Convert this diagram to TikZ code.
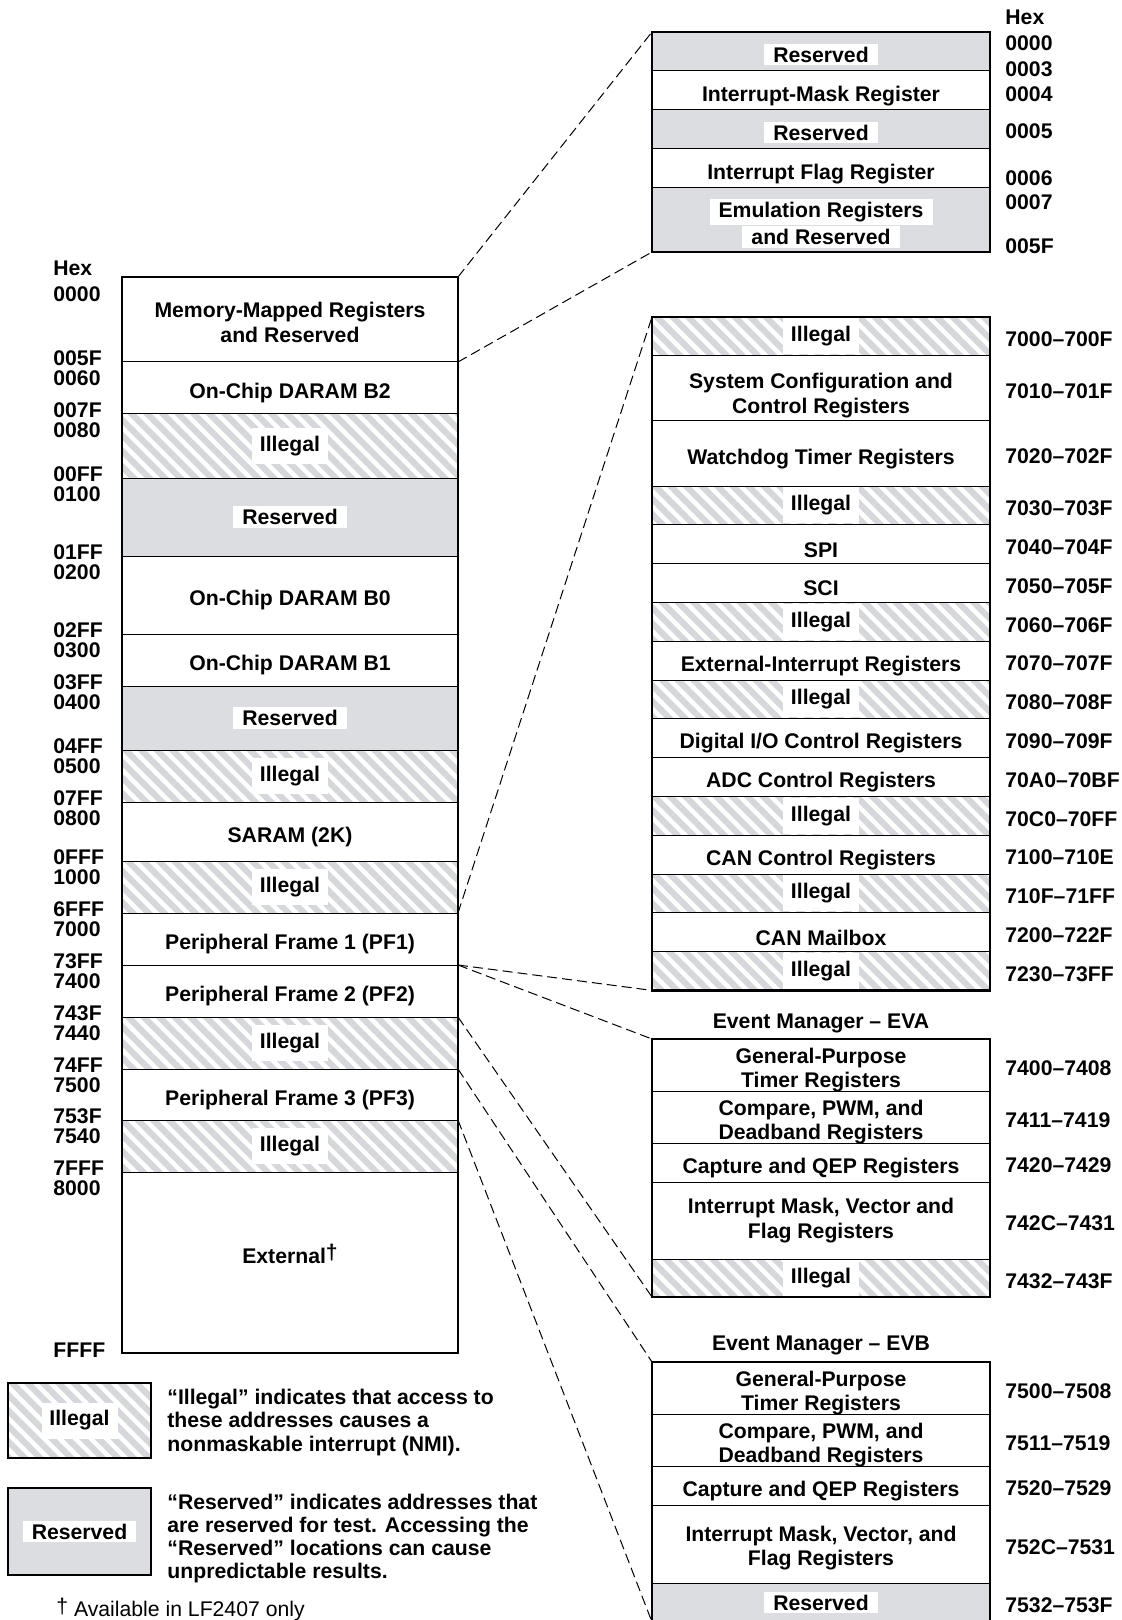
\documentclass[tikz,border=0pt]{standalone}
\usepackage{fontspec}
\setmainfont{Liberation Sans}
\usetikzlibrary{positioning, fit, calc, patterns.meta}
\definecolor{resgray}{RGB}{220,221,224}
\definecolor{hatchgray}{RGB}{214,215,218}

\begin{document}
\begin{tikzpicture}[x=0.5pt, y=-0.5pt,
    font=\fontsize{10.6}{12.25}\selectfont\bfseries,
    cell/.style={
        draw,
        line width=0.5pt,
        minimum width=168pt,
        inner sep=0pt,
        outer sep=0pt,
        align=center,
        execute at begin node={\rule{0pt}{13pt}}
    },
    rcell/.style={cell, minimum width=169pt},
    rowh/.style={minimum height=#1*0.5pt},
    tworow/.style={text height=#1, text depth=0pt},
    tworow/.default=22.8pt,
    illtag/.style={fill=white, minimum width=38pt, minimum height=18pt, inner sep=0pt},
    restag/.style={fill=white, inner xsep=4.5pt, inner ysep=1.5pt},
    illegal/.style={
        pattern={Lines[angle=-45, distance=5.5pt, line width=3.1pt]},
        pattern color=hatchgray,
        label={[illtag]center:Illegal}
    },
    resfill/.style={fill=resgray},
    reserved/.style={resfill, label={[restag]center:Reserved}},
    frame/.style={
        draw,
        line width=1.3pt,
        inner sep=0pt,
        outer sep=0pt
    },
    hexlab/.style={anchor=west, inner sep=0pt},
    zoomline/.style={
        dash pattern=on 5pt off 2.5pt,
        line width=0.5pt
    },
    legendtxt/.style={
        align=left,
        inner sep=0pt,
        font=\fontsize{10.6}{11.6}\selectfont\bfseries
    }
]
\useasboundingbox (0,0) rectangle (1122,1620);
\clip (0,0) rectangle (1122,1620);

% =====================
% Data memory map
% =====================

\node[cell, tworow, rowh=85, anchor=north west] (mmr) at (122,277) {Memory-Mapped Registers\\and Reserved};
\node[cell, rowh=52, below=0pt of mmr] (btwo) {On-Chip DARAM B2};
\node[cell, illegal, rowh=64, below=0pt of btwo] (illa) {};
\node[cell, reserved, rowh=78, below=0pt of illa] (resa) {};
\node[cell, rowh=78, below=0pt of resa] (bzero) {On-Chip DARAM B0};
\node[cell, rowh=52, below=0pt of bzero] (bone) {On-Chip DARAM B1};
\node[cell, reserved, rowh=64, below=0pt of bone] (resb) {};
\node[cell, illegal, rowh=52, below=0pt of resb] (illb) {};
\node[cell, rowh=59, below=0pt of illb] (saram) {SARAM (2K)};
\node[cell, illegal, rowh=52, below=0pt of saram] (illc) {};
\node[cell, rowh=52, below=0pt of illc] (pfone) {Peripheral Frame 1 (PF1)};
\node[cell, rowh=52, below=0pt of pfone] (pftwo) {Peripheral Frame 2 (PF2)};
\node[cell, illegal, rowh=52, below=0pt of pftwo] (illd) {};
\node[cell, rowh=51, below=0pt of illd] (pfthree) {Peripheral Frame 3 (PF3)};
\node[cell, illegal, rowh=52, below=0pt of pfthree] (ille) {};
\node[cell, rowh=181, below=0pt of ille,
    label={[yshift=4.5pt]center:External\raisebox{2pt}{†}}] (ext) {};

\node[frame, fit=(mmr)(ext)] (datamap) {};

% Hex addresses of the data map
\coordinate (hexcol) at (53,0);
\node[hexlab] (xhex) at ([yshift=4.5pt]hexcol |- datamap.north) {Hex};
\node[hexlab] (x0000) at ([yshift=-8.5pt]hexcol |- datamap.north) {0000};
\foreach \c/\lo/\hi in {btwo/005F/0060, illa/007F/0080, resa/00FF/0100,
    bzero/01FF/0200, bone/02FF/0300, resb/03FF/0400, illb/04FF/0500,
    saram/07FF/0800, illc/0FFF/1000, pfone/6FFF/7000, pftwo/73FF/7400,
    illd/743F/7440, pfthree/74FF/7500, ille/753F/7540, ext/7FFF/8000} {
    \node[hexlab] (x\lo) at ([yshift=2pt]hexcol |- \c.north) {\lo};
    \node[hexlab] (x\hi) at ([yshift=-8.25pt]hexcol |- \c.north) {\hi};
}
\node[hexlab] (xffff) at ([yshift=1.5pt]hexcol |- datamap.south) {FFFF};

% =====================
% Memory-mapped registers
% =====================

\node[rcell, resfill, rowh=39, anchor=north west,
    label={[restag, yshift=-1.5pt]center:Reserved}] (mresa) at (652,32) {};
\node[rcell, rowh=39, below=0pt of mresa] (mimr) {Interrupt-Mask Register};
\node[rcell, resfill, rowh=39, below=0pt of mimr,
    label={[restag, yshift=-1.5pt]center:Reserved}] (mresb) {};
\node[rcell, rowh=39, below=0pt of mresb] (mifr) {Interrupt Flag Register};
\node[rcell, resfill, rowh=64, below=0pt of mifr,
    label={[restag, yshift=4pt]center:Emulation Registers},
    label={[restag, yshift=-8.5pt]center:and Reserved}] (memu) {};

\node[frame, fit=(mresa)(memu)] (mmrmap) {};

\foreach \y/\t in {17/Hex, 43/0000, 69/0003, 94/0004, 131/0005, 178/0006, 202/0007, 246/005F} {
    \node[hexlab] (m\t) at (1005,\y) {\t};
}

% =====================
% Peripheral frame 1
% =====================

\node[rcell, illegal, rowh=39, anchor=north west] (pilla) at (652,317) {};
\node[rcell, tworow=24.8pt, rowh=65, below=0pt of pilla] (psys) {System Configuration and\\Control Registers};
\node[rcell, rowh=65, below=0pt of psys] (pwdt) {Watchdog Timer Registers};
\node[rcell, illegal, rowh=38.8, below=0pt of pwdt] (pillb) {};
\node[rcell, rowh=38.8, below=0pt of pillb] (pspi) {SPI};
\node[rcell, rowh=38.8, below=0pt of pspi] (psci) {SCI};
\node[rcell, illegal, rowh=38.8, below=0pt of psci] (pillc) {};
\node[rcell, rowh=38.8, below=0pt of pillc] (pxint) {External-Interrupt Registers};
\node[rcell, illegal, rowh=38.8, below=0pt of pxint] (pilld) {};
\node[rcell, rowh=38.8, below=0pt of pilld] (pdio) {Digital I/O Control Registers};
\node[rcell, rowh=38.8, below=0pt of pdio] (padc) {ADC Control Registers};
\node[rcell, illegal, rowh=38.8, below=0pt of padc] (pille) {};
\node[rcell, rowh=38.8, below=0pt of pille] (pcanc) {CAN Control Registers};
\node[rcell, illegal, rowh=38.8, below=0pt of pcanc] (pillf) {};
\node[rcell, rowh=38.8, below=0pt of pillf] (pcanm) {CAN Mailbox};
\node[rcell, illegal, rowh=38.8, below=0pt of pcanm] (pillg) {};

\node[frame, fit=(pilla)(pillg)] (pfonemap) {};

\foreach \c/\t in {pilla/7000–700F, psys/7010–701F, pwdt/7020–702F, pillb/7030–703F,
    pspi/7040–704F, psci/7050–705F, pillc/7060–706F, pxint/7070–707F,
    pilld/7080–708F, pdio/7090–709F, padc/70A0–70BF, pille/70C0–70FF,
    pcanc/7100–710E, pillf/710F–71FF, pcanm/7200–722F, pillg/7230–73FF} {
    \node[hexlab, right=7.5pt of \c, yshift=-1.5pt] (a\c) {\t};
}

% =====================
% Event manager A
% =====================

\node[rcell, tworow, rowh=52, anchor=north west] (agpt) at (652,1039) {General-Purpose\\Timer Registers};
\node[rcell, tworow, rowh=52, below=0pt of agpt] (acmp) {Compare, PWM, and\\Deadband Registers};
\node[rcell, rowh=39, below=0pt of acmp] (acap) {Capture and QEP Registers};
\node[rcell, rowh=77, below=0pt of acap] (aint) {Interrupt Mask, Vector and\\Flag Registers};
\node[rcell, illegal, rowh=38, below=0pt of aint] (aill) {};

\node[frame, fit=(agpt)(aill)] (evamap) {};
\node[inner sep=0pt] (evatitle) at ($(evamap.north)+(0,-16)$) {Event Manager – EVA};

\foreach \c/\t in {agpt/7400–7408, acmp/7411–7419, acap/7420–7429, aint/742C–7431, aill/7432–743F} {
    \node[hexlab, right=7.5pt of \c, yshift=-1.5pt] (a\c) {\t};
}

% =====================
% Event manager B
% =====================

\node[rcell, tworow, rowh=52, anchor=north west] (bgpt) at (652,1362) {General-Purpose\\Timer Registers};
\node[rcell, tworow, rowh=52, below=0pt of bgpt] (bcmp) {Compare, PWM, and\\Deadband Registers};
\node[rcell, rowh=39, below=0pt of bcmp] (bcap) {Capture and QEP Registers};
\node[rcell, tworow=21.8pt, rowh=78, below=0pt of bcap] (bint) {Interrupt Mask, Vector, and\\Flag Registers};
\node[rcell, reserved, rowh=39, below=0pt of bint] (bres) {};

\node[frame, fit=(bgpt)(bres)] (evbmap) {};
\node[inner sep=0pt] (evbtitle) at ($(evbmap.north)+(0,-17)$) {Event Manager – EVB};

\foreach \c/\t in {bgpt/7500–7508, bcmp/7511–7519, bcap/7520–7529, bint/752C–7531, bres/7532–753F} {
    \node[hexlab, right=7.5pt of \c, yshift=-1.5pt] (a\c) {\t};
}

% =====================
% Zoom lines
% =====================

\draw[zoomline] (mmr.north east) -- (mmrmap.north west);
\draw[zoomline] (mmr.south east) -- (mmrmap.south west);
\draw[zoomline] (pfone.north east) -- (pfonemap.north west);
\draw[zoomline] (pfone.south east) -- (pfonemap.south west);
\draw[zoomline] (pftwo.north east) -- (evamap.north west);
\draw[zoomline] (pftwo.south east) -- (evamap.south west);
\draw[zoomline] (pfthree.north east) -- (evbmap.north west);
\draw[zoomline] (pfthree.south east) -- (evbmap.south west);

% =====================
% Legend
% =====================

\node[frame, illegal, minimum width=71.5pt, minimum height=37.5pt, anchor=north west] (legill) at (8,1383) {};
\node[legendtxt, right=8pt of legill, yshift=-1pt] (legilltxt)
    {“Illegal” indicates that access to\\these addresses causes a\\nonmaskable interrupt (NMI).};

\node[frame, reserved, minimum width=71.5pt, minimum height=43.5pt, anchor=north west] (legres) at (8,1488) {};
\node[legendtxt, right=8pt of legres, yshift=-3.5pt] (legrestxt)
    {“Reserved” indicates addresses that\\are reserved for test. Accessing the\\“Reserved” locations can cause\\unpredictable results.};

\node[hexlab, font=\fontsize{10.6}{12.25}\selectfont] (footnote) at (56,1609) {\raisebox{1.5pt}{†} Available in LF2407 only};

\end{tikzpicture}
\end{document}
